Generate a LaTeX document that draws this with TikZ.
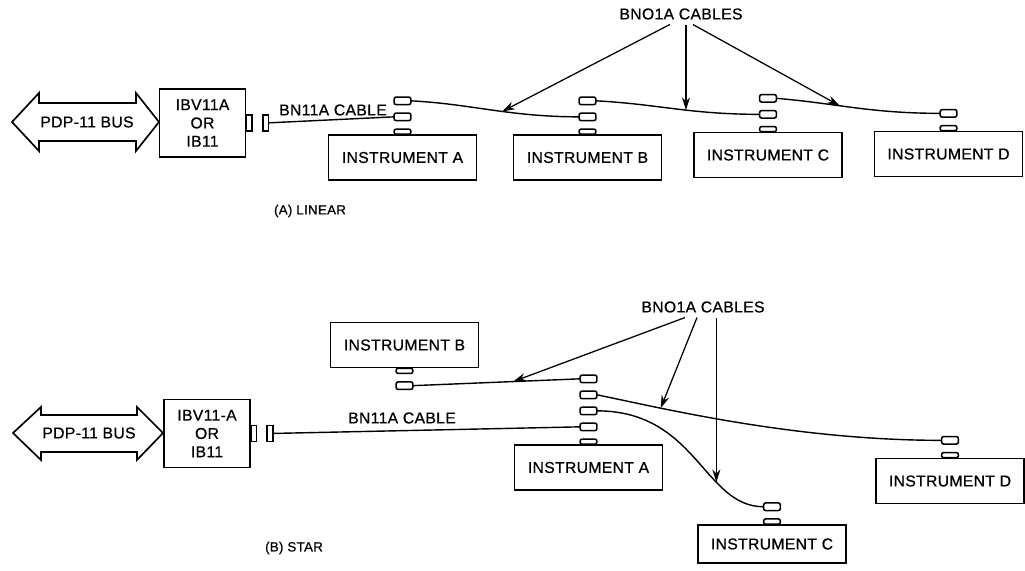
\documentclass[tikz,border=0pt]{standalone}
\usepackage{fontspec}
\setmainfont{Liberation Sans}[FakeBold=0.6, LetterSpace=2]
\usetikzlibrary{positioning,arrows.meta}

\begin{document}
\begin{tikzpicture}[x=0.025cm, y=-0.025cm,
font=\fontsize{11.2}{13}\selectfont,
unit/.style={rectangle, draw=black, fill=white, line width=1.2pt, minimum width=3.7cm, minimum height=1.12cm},
iface/.style={rectangle, draw=black, fill=white, line width=1.2pt, minimum width=2.15cm, minimum height=1.7cm, align=center},
plug/.style={rectangle, rounded corners=1.5pt, draw=black, fill=white, line width=1.1pt, minimum width=0.42cm, minimum height=0.19cm, inner sep=0pt, outer sep=0pt},
stub/.style={plug, minimum height=0.13cm},
jack/.style={rectangle, draw=black, fill=white, line width=1.1pt, minimum width=0.14cm, minimum height=0.39cm, inner sep=0pt, outer sep=0pt},
cable/.style={line width=1pt},
pointer/.style={line width=0.9pt, -{Stealth[length=0.32cm, width=0.2cm]}},
bus/.style={line width=1.2pt, line join=miter},
caption/.style={font=\fontsize{9.5}{11}\selectfont}
]
\useasboundingbox (0,0) rectangle (1025,571);

%(A) linear
\draw[bus] (12,122) -- (39,93) -- (39,103) -- (136,103) -- (136,93) -- (159,122)
  -- (136,151) -- (136,141) -- (39,141) -- (39,151) -- cycle;
\node                (bus1)  at (87,122)                {PDP-11 BUS};
\node[iface]         (if1)   at (202.5,123)             {IBV11A\\OR\\IB11};
\node[jack]          (jk1)   [right=0pt of if1]         {};
\node[jack]          (jk2)   [right=0.27cm of jk1]      {};
\node[unit]          (insA)  at (402.5,157.5)           {INSTRUMENT A};
\node[unit]          (insB)  at (587.5,157.5)           {INSTRUMENT B};
\node[unit]          (insC)  at (768,155)               {INSTRUMENT C};
\node[unit]          (insD)  at (948.5,154)             {INSTRUMENT D};
\node[stub]          (pA0)   [above=0pt of insA]        {};
\node[plug]          (pA1)   [above=0.21cm of pA0]      {};
\node[plug]          (pA2)   [above=0.21cm of pA1]      {};
\node[stub]          (pB0)   [above=0pt of insB]        {};
\node[plug]          (pB1)   [above=0.21cm of pB0]      {};
\node[plug]          (pB2)   [above=0.21cm of pB1]      {};
\node[stub]          (pC0)   [above=0pt of insC]        {};
\node[plug]          (pC1)   [above=0.21cm of pC0]      {};
\node[plug]          (pC2)   [above=0.21cm of pC1]      {};
\node[stub]          (pD0)   [above=0pt of insD]        {};
\node[plug]          (pD1)   [above=0.21cm of pD0]      {};
\node                (lbl1)  at (333,110)               {BN11A CABLE};
\node                (cap1)  at (681,14)                {BNO1A CABLES};
\node[caption]       (tag1)  at (310,211)               {(A) LINEAR};
%Cables
\draw[cable] (jk2) -- (pA1.west);
\draw[cable] (pA2.east) .. controls +(60,3) and +(-70,0) .. (pB1.west) coordinate[pos=0.57] (t1);
\draw[cable] (pB2.east) .. controls +(60,3) and +(-70,0) .. (pC1.west) coordinate[pos=0.58] (t2);
\draw[cable] (pC2.east) .. controls +(60,5) and +(-70,0) .. (pD1.west) coordinate[pos=0.4] (t3);
\draw[pointer] ([xshift=-0.28cm]cap1.south) -- (t1);
\draw[pointer] (t2 |- cap1.south) -- (t2);
\draw[pointer] ([xshift=0.3cm]cap1.south) -- (t3);

%(B) star
\draw[bus] (13,433) -- (41,407) -- (41,415) -- (137,415) -- (137,407) -- (163,433)
  -- (137,460) -- (137,452) -- (41,452) -- (41,460) -- cycle;
\node                (bus2)  at (89,433)                {PDP-11 BUS};
\node[iface]         (if2)   at (207,433.5)             {IBV11-A\\OR\\IB11};
\node[jack]          (jk3)   [right=0pt of if2]         {};
\node[jack]          (jk4)   [right=0.27cm of jk3]      {};
\node[unit]          (stB)   at (404.5,345)             {INSTRUMENT B};
\node[unit]          (stA)   at (588.5,467.5)           {INSTRUMENT A};
\node[unit, minimum height=0.95cm] (stC) at (772,544)   {INSTRUMENT C};
\node[unit]          (stD)   at (950,481)               {INSTRUMENT D};
\node[stub]          (qB0)   [below=0pt of stB]         {};
\node[plug]          (qB1)   [below=0.21cm of qB0]      {};
\node[stub]          (qA0)   [above=0pt of stA]         {};
\node[plug]          (qA1)   [above=0.21cm of qA0]      {};
\node[plug]          (qA2)   [above=0.21cm of qA1]      {};
\node[plug]          (qA3)   [above=0.21cm of qA2]      {};
\node[plug]          (qA4)   [above=0.21cm of qA3]      {};
\node[stub]          (qC0)   [above=0pt of stC]         {};
\node[plug]          (qC1)   [above=0.21cm of qC0]      {};
\node[stub]          (qD0)   [above=0pt of stD]         {};
\node[plug]          (qD1)   [above=0.21cm of qD0]      {};
\node                (lbl2)  at (402,418)               {BN11A CABLE};
\node                (cap2)  at (703,307)               {BNO1A CABLES};
\node[caption]       (tag2)  at (294,548)               {(B) STAR};
%Cables
\draw[cable] (jk4) -- (qA1.west);
\draw[cable] (qB1.east) -- (qA4.west) coordinate[pos=0.6] (tB);
\draw[cable] (qA3.east) .. controls +(60,12) and +(-150,0) .. (qD1.west) coordinate[pos=0.27] (tD);
\draw[cable] (qA2.east) .. controls +(100,0) and +(-60,0) .. (qC1.west) coordinate[pos=0.67] (tC);
\draw[pointer] ([xshift=-0.45cm]cap2.south) -- (tB);
\draw[pointer] ([xshift=-0.15cm]cap2.south) -- (tD);
\draw[pointer] (tC |- cap2.south) -- (tC);
\end{tikzpicture}
\end{document}
